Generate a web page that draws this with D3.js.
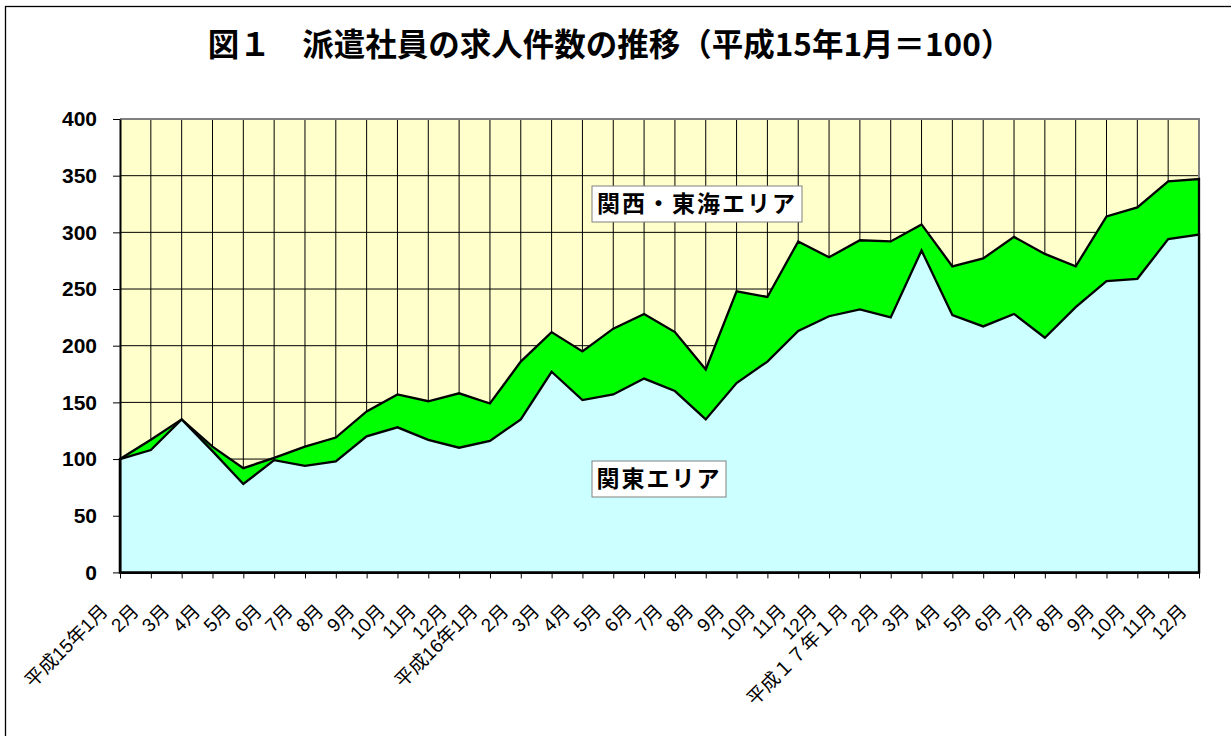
<!DOCTYPE html>
<html>
<head>
<meta charset="utf-8">
<script src="https://cdn.jsdelivr.net/npm/d3@7"></script>
<style>
  body { margin: 0; background: #fff; }
  svg { display: block; }
</style>
</head>
<body>
<div id="graph"></div>
<script>
// Month labels (平成15年1月 ～ 平成17年12月)
const months = [
  "平成15年1月", "2月", "3月", "4月", "5月", "6月", "7月", "8月", "9月", "10月", "11月", "12月",
  "平成16年1月", "2月", "3月", "4月", "5月", "6月", "7月", "8月", "9月", "10月", "11月", "12月",
  "平成１７年１月", "2月", "3月", "4月", "5月", "6月", "7月", "8月", "9月", "10月", "11月", "12月"
];

// 関東エリア
const kanto = [
  100, 108, 135, 107, 78, 99, 94, 98, 120, 128, 117, 110,
  116, 135, 177, 152, 157, 171, 160, 135, 167, 186, 213, 226,
  232, 225, 284, 227, 217, 228, 207, 234, 257, 259, 294, 298
];

// 関西・東海エリア
const kansai = [
  100, 117, 135, 111, 92, 101, 111, 119, 142, 157, 151, 158,
  149, 186, 212, 195, 215, 228, 212, 179, 248, 243, 292, 278,
  293, 292, 307, 270, 277, 296, 281, 270, 314, 322, 345, 347
];

const yTicks = [0, 50, 100, 150, 200, 250, 300, 350, 400];

const W = 1231, H = 736;
const margin = { top: 119, right: 32, bottom: 164, left: 120 };
const width = 1199 - margin.left;
const height = 572.4 - margin.top;

const svg = d3.select("#graph")
  .append("svg")
  .attr("width", W)
  .attr("height", H);

// outer chart border (only top and left visible)
svg.append("rect")
  .attr("x", 5.5)
  .attr("y", 6.5)
  .attr("width", W + 10)
  .attr("height", H + 10)
  .attr("fill", "#fff")
  .attr("stroke", "#000")
  .attr("stroke-width", 1.3);

// title
svg.append("text")
  .attr("x", 610)
  .attr("y", 56)
  .attr("text-anchor", "middle")
  .style("font-family", "'Noto Sans CJK JP', sans-serif")
  .style("font-weight", "bold")
  .style("font-size", "31.5px")
  .text("図１　派遣社員の求人件数の推移（平成15年1月＝100）");

const g = svg.append("g")
  .attr("transform", `translate(${margin.left},${margin.top})`);

const x = d3.scalePoint()
  .domain(d3.range(months.length))
  .range([0, width]);

const y = d3.scaleLinear()
  .domain([0, 400])
  .range([height, 0]);

// plot background
g.append("rect")
  .attr("width", width)
  .attr("height", height)
  .attr("fill", "#FFFFCC");

// grid lines
g.append("g")
  .selectAll("line")
  .data(yTicks.slice(1, -1))
  .join("line")
  .attr("x1", 0)
  .attr("x2", width)
  .attr("y1", d => y(d))
  .attr("y2", d => y(d))
  .attr("stroke", "#000")
  .attr("stroke-width", 1);

g.append("g")
  .selectAll("line")
  .data(d3.range(1, months.length - 1))
  .join("line")
  .attr("x1", d => x(d))
  .attr("x2", d => x(d))
  .attr("y1", 0)
  .attr("y2", height)
  .attr("stroke", "#000")
  .attr("stroke-width", 1);

// plot area frame (grey top / right)
g.append("path")
  .attr("d", `M0,0H${width}V${height}`)
  .attr("fill", "none")
  .attr("stroke", "#808080")
  .attr("stroke-width", 2);

// areas
const areaOf = vals => d3.area()
  .x((d, i) => x(i))
  .y0(y(0))
  .y1(d => y(d))(vals);

g.append("path")
  .attr("d", areaOf(kansai))
  .attr("fill", "#00FF00")
  .attr("stroke", "#000")
  .attr("stroke-width", 2.3)
  .attr("stroke-linejoin", "miter");

g.append("path")
  .attr("d", areaOf(kanto))
  .attr("fill", "#CCFFFF")
  .attr("stroke", "#000")
  .attr("stroke-width", 2.3)
  .attr("stroke-linejoin", "miter");

// y axis
const yAxis = g.append("g")
  .call(d3.axisLeft(y).tickValues(yTicks).tickSize(7).tickSizeOuter(0).tickPadding(16));
yAxis.select(".domain").attr("stroke", "#000").attr("stroke-width", 2);
yAxis.selectAll("text")
  .style("font-family", "'Liberation Sans', Arial, sans-serif")
  .style("font-weight", "bold")
  .style("font-size", "21px")
  .attr("fill", "#000");

// x axis
const xAxis = g.append("g")
  .attr("transform", `translate(0,${height})`)
  .call(d3.axisBottom(x).tickSize(6).tickSizeOuter(0).tickFormat(() => ""));
xAxis.select(".domain").attr("stroke", "#000").attr("stroke-width", 2);

g.append("g")
  .selectAll("text")
  .data(months)
  .join("text")
  .attr("transform", (d, i) => `translate(${x(i) - 11},${height + 40}) rotate(-45)`)
  .attr("text-anchor", "end")
  .style("font-family", "'Liberation Sans', 'Noto Sans CJK JP', sans-serif")
  .style("font-size", "19px")
  .text(d => d);

// series labels
const labels = [
  { text: "関西・東海エリア", x: 592, y: 186, w: 210, h: 36 },
  { text: "関東エリア", x: 592, y: 461, w: 134, h: 36 }
];

const lab = svg.append("g")
  .selectAll("g")
  .data(labels)
  .join("g")
  .attr("transform", d => `translate(${d.x},${d.y})`);

lab.append("rect")
  .attr("width", d => d.w)
  .attr("height", d => d.h)
  .attr("fill", "#fff")
  .attr("stroke", "#808080")
  .attr("stroke-width", 1);

lab.append("text")
  .attr("x", d => d.w / 2)
  .attr("y", d => d.h / 2)
  .attr("dy", "0.36em")
  .attr("text-anchor", "middle")
  .style("font-family", "'Noto Sans CJK JP', sans-serif")
  .style("font-weight", "bold")
  .style("font-size", "23px")
  .style("letter-spacing", "2px")
  .text(d => d.text);
</script>
</body>
</html>
